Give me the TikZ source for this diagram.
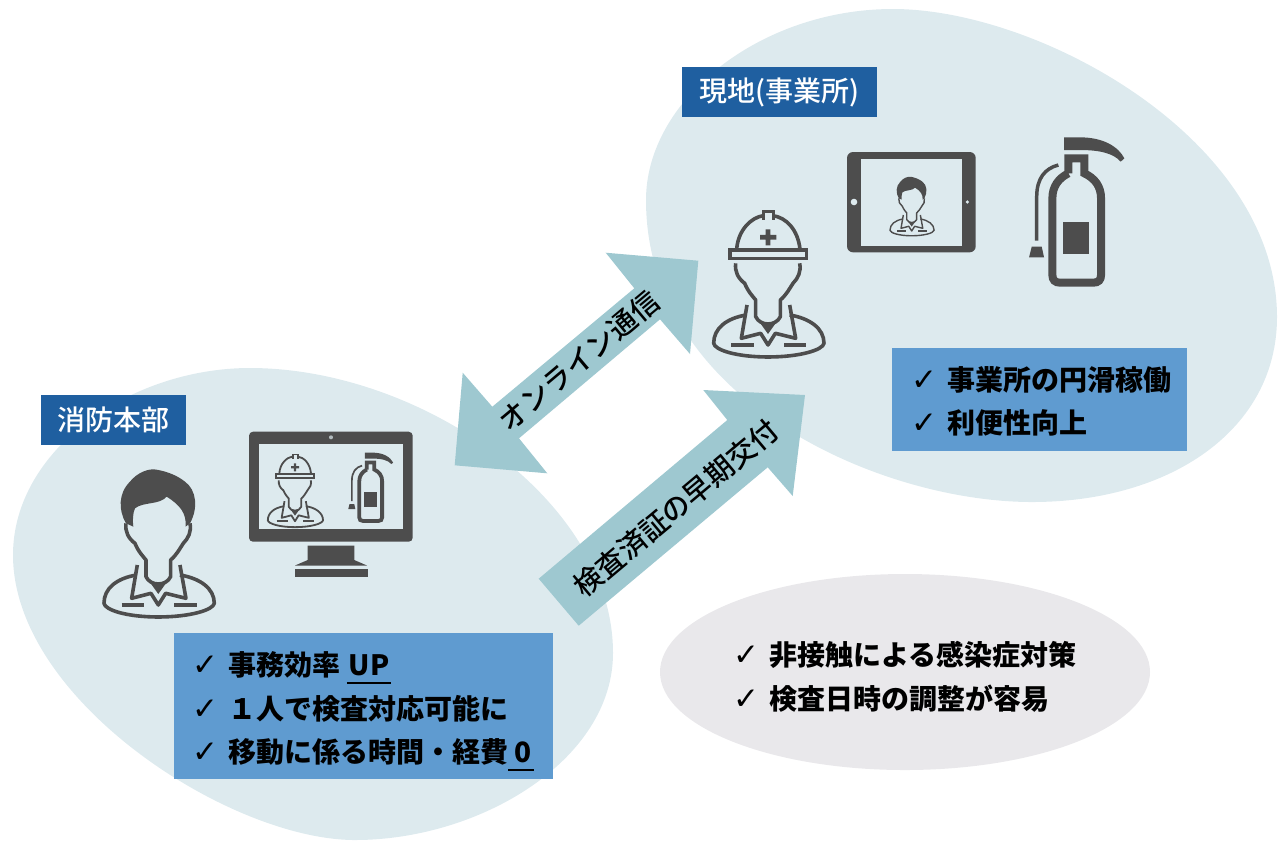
\documentclass[tikz,border=0pt]{standalone}
\usepackage{fontspec}
\setmainfont{Noto Sans CJK JP}
\newfontfamily\medfont{Noto Sans CJK JP Medium}
\newfontfamily\symfont{DejaVu Sans}
\usepackage{tikz}
\usetikzlibrary{shapes.geometric}

\definecolor{blobcol}{HTML}{DDEAEE}
\definecolor{greycol}{HTML}{E9E8EB}
\definecolor{arrowcol}{HTML}{9EC8D0}
\definecolor{headcol}{HTML}{1F5FA0}
\definecolor{listcol}{HTML}{5F9BD0}
\definecolor{iconcol}{HTML}{4D4D4D}

\newcommand{\chk}{\makebox[18pt][l]{\symfont\fontsize{15.5}{15.5}\selectfont ✓}}
\newcommand{\ul}[1]{\setbox0=\hbox{#1}\rlap{\rule[-4pt]{\wd0}{.9pt}}\box0}

\tikzset{
  pics/bust/.style={code={
    \begin{scope}[shift={(-415,-490)},draw=iconcol,line join=round]
      \draw (318,430) .. controls (315,455) and (325,475) .. (345,490) .. controls (355,515) and (370,530) .. (378,540) -- (378,590)
            .. controls (385,605) and (400,612) .. (415,612) .. controls (430,612) and (445,605) .. (452,590) -- (452,540)
            .. controls (470,525) and (480,505) .. (490,490) .. controls (505,475) and (515,455) .. (510,430);
      \fill[iconcol] (385,600) .. controls (400,612) and (430,612) .. (445,600) -- (415,642) -- cycle;
      \draw (352,555) -- (335,655) -- (393,640) -- (415,675) -- (437,640) -- (498,655) -- (480,555);
      \draw (350,585) .. controls (290,595) and (252,625) .. (252,670) .. controls (255,690) and (320,711) .. (415,711)
            .. controls (510,711) and (580,690) .. (583,670) .. controls (583,625) and (540,595) .. (480,585);
      \draw (305,675) -- (372,675) (463,675) -- (530,675);
    \end{scope}}},
  pics/hair/.style={code={
    \begin{scope}[shift={(-415,-490)}]
      \fill[iconcol] (318,430) .. controls (295,390) and (295,340) .. (330,305) .. controls (350,280) and (385,262) .. (415,270)
            .. controls (440,275) and (470,285) .. (495,305) .. controls (530,330) and (535,385) .. (510,430) -- (497,440)
            .. controls (500,400) and (480,375) .. (440,350) .. controls (420,375) and (370,365) .. (345,385)
            .. controls (338,400) and (338,425) .. (340,440) -- cycle;
    \end{scope}}},
  pics/helmet/.style={code={
    \begin{scope}[shift={(-415,-490)},draw=iconcol]
      \draw (321,388) .. controls (325,330) and (365,292) .. (401,287) (429,287) .. controls (470,292) and (505,330) .. (511,388);
      \draw (401,300) -- (401,275) -- (431,275) -- (431,300);
      \draw (301,390) rectangle (531,415);
      \fill[iconcol] (408,328) rectangle (422,376) (391,345) rectangle (440,359);
    \end{scope}}},
  pics/extinguisher/.style={code={
    \begin{scope}[shift={(-1160,-276)},draw=iconcol]
      \draw (1135,160) -- (1135,115) -- (1183,115) -- (1183,160) .. controls (1215,175) and (1233,200) .. (1233,235) -- (1233,465)
            .. controls (1233,480) and (1225,488) .. (1210,488) -- (1110,488) .. controls (1095,488) and (1087,480) .. (1087,465)
            -- (1087,235) .. controls (1087,200) and (1105,175) .. (1135,160);
      \fill[iconcol] (1120,306) rectangle (1198,402);
      \fill[iconcol] (1122,52) -- (1170,52) .. controls (1240,52) and (1285,80) .. (1303,115) -- (1292,125)
            .. controls (1270,100) and (1230,90) .. (1170,90) -- (1122,90) -- cycle;
      \draw[line width=0.66\pgflinewidth] (1105,135) .. controls (1065,145) and (1040,175) .. (1040,230) -- (1040,362);
      \fill[iconcol] (1025,380) -- (1055,380) -- (1062,412) -- (1017,412) -- cycle;
    \end{scope}}}
}

\begin{document}
\begin{tikzpicture}[x=0.5pt,y=-0.5pt]
                  \tikzstyle{headbox}=[fill=headcol,text=white,font=\fontsize{14}{14}\selectfont\medfont,inner sep=0pt,minimum height=25pt]
                  \tikzstyle{listbox}=[fill=listcol,inner sep=0pt]
                  \tikzstyle{listtext}=[inner sep=0pt,anchor=west,align=left,font=\fontsize{14}{21.75}\selectfont\bfseries]
                  \tikzstyle{arrowlabel}=[rotate=40,inner sep=0pt,font=\fontsize{14.2}{14.2}\selectfont\medfont]

                  \useasboundingbox (0,0) rectangle (1278,843);

                  \fill[blobcol] (13,555) .. controls (13,450) and (130,368) .. (250,368) .. controls (420,368) and (613,500) .. (613,653)
                        .. controls (613,760) and (480,840) .. (355,840) .. controls (230,840) and (13,700) .. cycle;
                  \fill[blobcol] (646,200) .. controls (646,100) and (760,9) .. (893,9) .. controls (1040,9) and (1277,140) .. (1277,317)
                        .. controls (1277,430) and (1170,502) .. (1032,502) .. controls (880,502) and (646,400) .. cycle;
                  \node[ellipse,fill=greycol,inner sep=0pt,minimum width=245pt,minimum height=98pt] (contact) at (905,672) {};

                  \fill[arrowcol] (605.7,252.7) -- (698.3,260.7) -- (690,354) -- (660,319.3) -- (519,438.3) -- (547.3,473.3) -- (454.7,465.3) -- (462.7,372.7) -- (492.3,406.7) -- (634.3,288.3) -- cycle;
                  \fill[arrowcol] (538.7,578.7) -- (727.3,420) -- (703.3,390) -- (805,395) -- (792.7,496) -- (767.7,467.3) -- (578.7,625.7) -- cycle;
                  \node[arrowlabel] (online) at (579,361) {オンライン通信};
                  \node[arrowlabel] (issue)  at (676,508) {検査済証の早期交付};

                  \node[headbox,minimum width=72.5pt] (hq)   at (113.5,420) {消防本部};
                  \node[headbox,minimum width=97.5pt] (site) at (779.5,92)  {現地(事業所)};

                  \node[listbox,minimum width=189.5pt,minimum height=73pt] (hqbox) at (363.5,706) {};
                  \node[listbox,minimum width=147.5pt,minimum height=51.5pt] (sitebox) at (1039.5,399.5) {};
                  \node[listtext] (hqlist) at (192,711)
                       {\chk 事務効率 \ul{\kern1pt UP\kern1pt}\\\chk １人で検査対応可能に\\\chk 移動に係る時間・経費\ul{\kern3pt 0\kern1.5pt}};
                  \node[listtext] (sitelist) at (911,401.5)
                       {\chk 事業所の円滑稼働\\\chk 利便性向上};
                  \node[listtext,font=\fontsize{14}{22}\selectfont\bfseries] (contactlist) at (733,677)
                       {\chk 非接触による感染症対策\\\chk 検査日時の調整が容易};

                  \pic[scale=.3333,line width=1.8pt] at (158.3,543.3) {bust};
                  \pic[scale=.3333] at (158.3,543.3) {hair};
                  \pic[scale=.3333,line width=1.8pt] at (768,283.3) {bust};
                  \pic[scale=.3333,line width=1.8pt] at (768,283.3) {helmet};
                  \pic[scale=.3333,line width=4pt] at (1076.7,212) {extinguisher};

                  \fill[iconcol,rounded corners=2pt] (249,431.7) rectangle (412.7,541.7);
                  \fill[blobcol] (259.3,444.3) rectangle (403,529.3);
                  \fill[blobcol!70!iconcol] (331,437.3) circle (2);
                  \fill[iconcol] (307.7,545.7) -- (354.3,545.7) -- (354.3,560) -- (367,565.5) -- (295,565.5) -- (307.7,560) -- cycle;
                  \fill[iconcol] (295,569) rectangle (367.7,576.7);
                  \pic[scale=.1667,line width=.9pt] at (295,490.3) {bust};
                  \pic[scale=.1667,line width=.9pt] at (295,490.3) {helmet};
                  \pic[scale=.1567,line width=1.9pt] at (370.7,487.7) {extinguisher};

                  \fill[iconcol,rounded corners=3pt] (847,152) rectangle (975.7,252.3);
                  \fill[blobcol] (861.3,159) rectangle (961.7,245.7);
                  \fill[blobcol] (854,202) circle (3.3) (967.3,202) circle (1.8);
                  \pic[scale=.1333,line width=.7pt] at (911.7,206.3) {bust};
                  \pic[scale=.1333] at (911.7,206.3) {hair};
\end{tikzpicture}
\end{document}
